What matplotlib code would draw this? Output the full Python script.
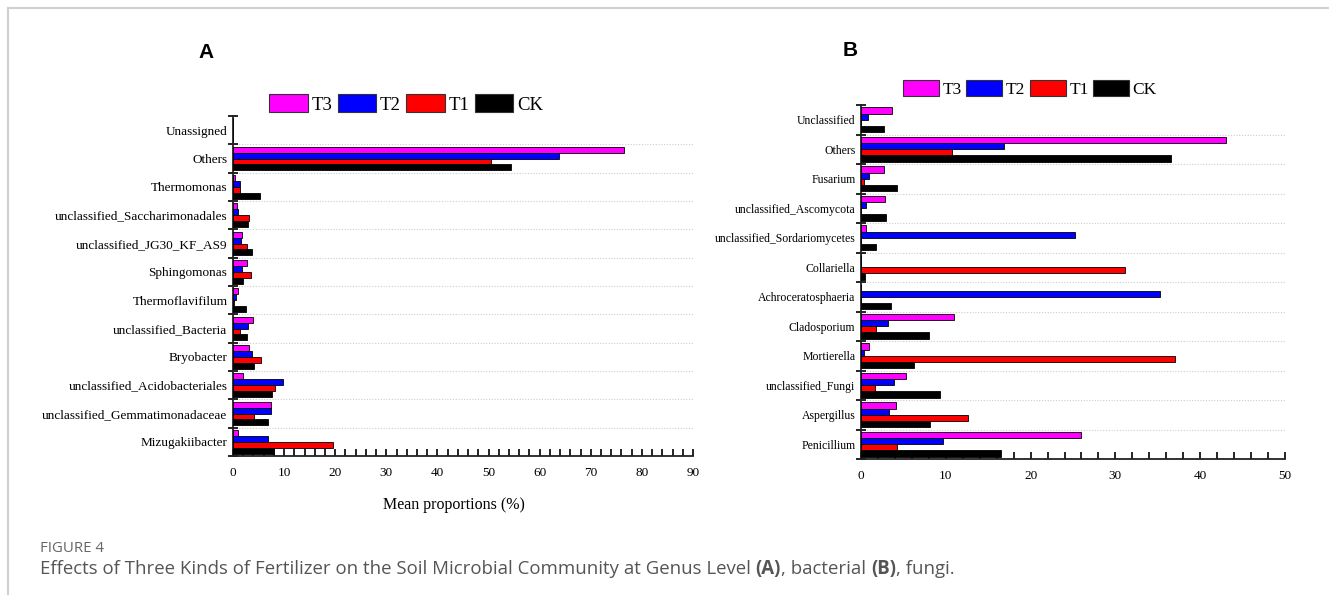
import matplotlib
matplotlib.use('Agg')
import matplotlib.pyplot as plt
from matplotlib.patches import Patch
from matplotlib.lines import Line2D
import numpy as np

# panel A, bacterial genera (top to bottom)
bac_genus = ['Unassigned', 'Others', 'Thermomonas', 'unclassified_Saccharimonadales',
             'unclassified_JG30_KF_AS9', 'Sphingomonas', 'Thermoflavifilum',
             'unclassified_Bacteria', 'Bryobacter', 'unclassified_Acidobacteriales',
             'unclassified_Gemmatimonadaceae', 'Mizugakiibacter']
bac_t3 = [0, 76.5, 0.3, 0.8, 1.8, 2.7, 0.9, 3.9, 3.1, 2.0, 7.4, 1.0]
bac_t2 = [0, 63.7, 1.4, 1.0, 1.6, 1.8, 0.6, 2.9, 3.7, 9.8, 7.4, 6.9]
bac_t1 = [0, 50.4, 1.3, 3.1, 2.8, 3.5, 0.2, 1.3, 5.5, 8.2, 4.2, 19.6]
bac_ck = [0, 54.3, 5.3, 3.0, 3.8, 2.0, 2.5, 2.7, 4.2, 7.7, 6.8, 8.1]

# panel B, fungal genera (top to bottom)
fun_genus = ['Unclassified', 'Others', 'Fusarium', 'unclassified_Ascomycota',
             'unclassified_Sordariomycetes', 'Collariella', 'Achroceratosphaeria',
             'Cladosporium', 'Mortierella', 'unclassified_Fungi', 'Aspergillus', 'Penicillium']
fun_t3 = [3.6, 43.0, 2.7, 2.8, 0.6, 0, 0, 11.0, 1.0, 5.3, 4.1, 25.9]
fun_t2 = [0.8, 16.9, 0.9, 0.6, 25.2, 0, 35.3, 3.2, 0.35, 3.9, 3.3, 9.7]
fun_t1 = [0, 10.7, 0.4, 0, 0, 31.1, 0, 1.8, 37.0, 1.7, 12.6, 4.2]
fun_ck = [2.7, 36.6, 4.2, 3.0, 1.8, 0.5, 3.5, 8.0, 6.2, 9.3, 8.1, 16.5]

groups = ['T3', 'T2', 'T1', 'CK']
colors = ['#ff00ff', '#0000ff', '#ff0000', '#000000']

serif = ['Liberation Serif', 'DejaVu Serif']
W, H = 1329, 595


def draw_panel(ax, genus, series, xmax, lab_size):
    y = np.arange(len(genus))
    offs = [-0.315, -0.105, 0.105, 0.315]
    for vals, c, o in zip(series, colors, offs):
        ax.barh(y + o, vals, height=0.21, color=c, edgecolor='black', linewidth=0.6, zorder=3)
    # dotted separators between categories
    for b in np.arange(len(genus) + 1)[1:-1] - 0.5:
        ax.axhline(b, color='#cccccc', ls=(0, (1, 1.5)), lw=0.8, zorder=1)
    ax.set_ylim(len(genus) - 0.5, -0.5)
    ax.set_xlim(0, xmax)
    ax.set_yticks(y)
    ax.set_yticklabels(genus, family=serif, fontsize=lab_size)
    ax.set_yticks(np.arange(len(genus) + 1) - 0.5, minor=True)
    ax.tick_params(axis='y', which='major', length=0, pad=4)
    ax.tick_params(axis='y', which='minor', direction='inout', length=7, width=1.2)
    ax.set_xticks(np.arange(0, xmax + 1, 10))
    ax.set_xticks(np.arange(0, xmax + 1, 2), minor=True)
    ax.tick_params(axis='x', which='both', direction='in', length=5, width=1.2, pad=8)
    for t in ax.get_xticklabels():
        t.set_family(serif)
        t.set_fontsize(9.5)
    for s in ['top', 'right']:
        ax.spines[s].set_visible(False)
    for s in ['left', 'bottom']:
        ax.spines[s].set_linewidth(1.3)
        ax.spines[s].set_color('#222222')


def fx(px):
    return px / W


def fy(py):
    return 1 - py / H


fig = plt.figure(figsize=(W / 100, H / 100), dpi=100)

axA = fig.add_axes([fx(233), fy(456), fx(693) - fx(233), fy(116) - fy(456)])
draw_panel(axA, bac_genus, [bac_t3, bac_t2, bac_t1, bac_ck], 90, 9.5)
axA.set_xlabel('Mean proportions (%)', family=serif, fontsize=11.5, labelpad=10)
axA.xaxis.set_label_coords(0.48, -0.12)

axB = fig.add_axes([fx(861), fy(459), fx(1285) - fx(861), fy(105) - fy(459)])
draw_panel(axB, fun_genus, [fun_t3, fun_t2, fun_t1, fun_ck], 50, 8.5)

handles = [Patch(facecolor=c, edgecolor='#333333', linewidth=0.8) for c in colors]
leg_kw = dict(ncol=4, frameon=False, handlelength=2.07, handleheight=1.05,
              handletextpad=0.2, columnspacing=0.27, borderpad=0, borderaxespad=0,
              loc='center left')
fig.legend(handles, groups, bbox_to_anchor=(fx(269), fy(104)),
           prop={'family': serif, 'size': 13.5}, **leg_kw)
fig.legend(handles, groups, bbox_to_anchor=(fx(903), fy(89)),
           prop={'family': serif, 'size': 12.5}, **leg_kw)

fig.text(fx(206), fy(52), 'A', fontsize=15, fontweight='bold', family='Liberation Sans',
         ha='center', va='center')
fig.text(fx(850), fy(50), 'B', fontsize=15, fontweight='bold', family='Liberation Sans',
         ha='center', va='center')

# frame lines of the figure box
fig.add_artist(Line2D([fx(8), 1], [fy(8), fy(8)], color='#d0d0d0', lw=1.5))
fig.add_artist(Line2D([fx(8), fx(8)], [0, fy(8)], color='#d0d0d0', lw=1.5))

# caption
fig.text(fx(40), fy(549), 'FIGURE 4', fontsize=10.8, color='#666666', family='Open Sans',
         va='center')
pieces = [('Effects of Three Kinds of Fertilizer on the Soil Microbial Community at Genus Level ', 'normal'),
          ('(A)', 'bold'), (', bacterial ', 'normal'), ('(B)', 'bold'), (', fungi.', 'normal')]
renderer = fig.canvas.get_renderer()
x = fx(40)
for txt, wt in pieces:
    t = fig.text(x, fy(569), txt, fontsize=13.4, color='#555555', family='Open Sans',
                 fontweight=wt, va='center')
    bb = t.get_window_extent(renderer=renderer)
    x += bb.width / W

fig.savefig('out.png', dpi=100)
